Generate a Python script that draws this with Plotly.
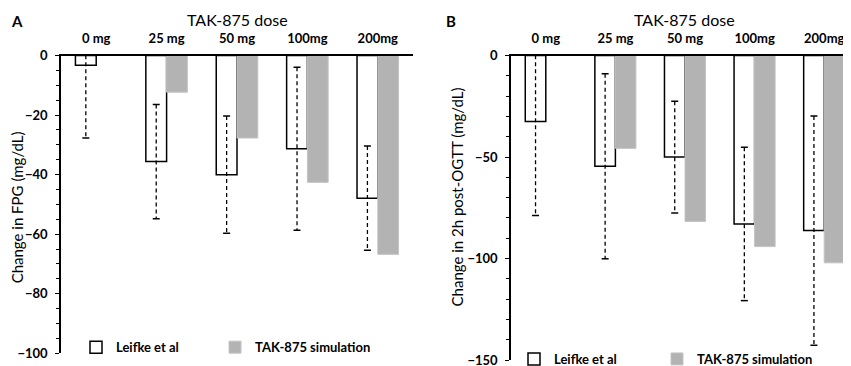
import plotly.graph_objects as go

doses = ["0 mg", "25 mg", "50 mg", "100mg", "200mg"]

# Panel A: change in FPG (mg/dL)
fpg_leifke = [-3.2, -35.6, -40.0, -31.3, -47.9]
fpg_leifke_err = [24.5, 19.2, 19.7, 27.4, 17.5]
fpg_sim = [None, -12.3, -27.7, -42.6, -66.8]

# Panel B: change in 2h post-OGTT (mg/dL)
ogtt_leifke = [-32.4, -54.5, -50.0, -82.9, -86.2]
ogtt_leifke_err = [46.4, 45.6, 27.5, 37.8, 56.5]
ogtt_sim = [None, -45.7, -81.7, -94.1, -102.1]

W, H = 851, 366
FONT = "Lato, 'Open Sans', sans-serif"
BARGAP = 0.41
GRAY = "#b3b3b3"

fig = go.Figure()
xs = list(range(len(doses)))
bw = (1 - BARGAP) / 2


def add_panel(xa, ya, leifke, err, sim, leg_a, leg_b):
    fig.add_trace(go.Bar(
        x=xs, y=leifke, name="Leifke et al", xaxis=xa, yaxis=ya,
        marker=dict(color="white", line=dict(color="black", width=1.5)),
        offsetgroup="a", legend=leg_a, showlegend=True))
    fig.add_trace(go.Bar(
        x=xs, y=sim, name="TAK-875 simulation", xaxis=xa, yaxis=ya,
        marker=dict(color=GRAY, line=dict(color="#c4c4c4", width=1)),
        offsetgroup="b", legend=leg_b, showlegend=True))
    # dashed error bars through the centre of the Leifke bars
    lx, ly, cx, cy = [], [], [], []
    for i, (v, e) in enumerate(zip(leifke, err)):
        xc = i - bw / 2
        lx += [xc, xc, None]
        ly += [v + e, v - e, None]
        cx += [xc, xc]
        cy += [v + e, v - e]
    fig.add_trace(go.Scatter(
        x=lx, y=ly, mode="lines", xaxis=xa, yaxis=ya, showlegend=False,
        line=dict(color="black", width=1.3, dash="4px,3px"), hoverinfo="skip"))
    fig.add_trace(go.Scatter(
        x=cx, y=cy, mode="markers", xaxis=xa, yaxis=ya, showlegend=False,
        marker=dict(symbol="line-ew", size=5, line=dict(color="black", width=1.5)),
        hoverinfo="skip"))


add_panel("x", "y", fpg_leifke, fpg_leifke_err, fpg_sim, "legend", "legend3")
add_panel("x2", "y2", ogtt_leifke, ogtt_leifke_err, ogtt_sim, "legend2", "legend4")

tick_font = dict(family=FONT, size=13, color="black", weight="bold")
xcommon = dict(range=[-0.5, 4.5], side="top", tickvals=xs, ticktext=doses,
               showline=True, linecolor="black", linewidth=1.5, ticks="",
               tickfont=tick_font, showgrid=False, zeroline=False,
               ticklabelstandoff=6, automargin=False, fixedrange=True)
ycommon = dict(showline=True, linecolor="black", linewidth=1.5, ticks="outside",
               ticklen=4, tickwidth=1.2, tickcolor="black", tickfont=tick_font,
               ticklabelstandoff=5,
               showgrid=False, zeroline=False, automargin=False, fixedrange=True)

top = 1 - 48 / H
leg_font = dict(family=FONT, size=13, weight="bold", color="black")


def leg(xpx, ypx):
    return dict(orientation="h", x=xpx / W, xanchor="left", y=1 - ypx / H,
                yanchor="middle", bgcolor="rgba(0,0,0,0)", font=leg_font,
                itemwidth=30)


fig.update_layout(
    width=W, height=H, margin=dict(l=0, r=0, t=0, b=0),
    paper_bgcolor="white", plot_bgcolor="white",
    barmode="group", bargap=BARGAP, bargroupgap=0,
    font=dict(family=FONT, color="black"),
    xaxis=dict(domain=[53 / W, 405 / W], anchor="y", **xcommon),
    xaxis2=dict(domain=[503 / W, 1.0], anchor="y2", **xcommon),
    yaxis=dict(domain=[1 - 348 / H, top], range=[-100, 0], dtick=20, anchor="x",
               minor=dict(dtick=5, ticks="outside", ticklen=3, tickcolor="black"),
               **ycommon),
    yaxis2=dict(domain=[1 - 355 / H, top], range=[-150, 0], dtick=50, anchor="x2",
                minor=dict(dtick=10, ticks="outside", ticklen=3, tickcolor="black"),
                **ycommon),
    legend=leg(68, 342),
    legend3=leg(207, 342),
    legend2=leg(506, 354),
    legend4=leg(649, 354),
)

ann = dict(showarrow=False, xref="paper", yref="paper")
fig.add_annotation(text="TAK-875 dose", x=229 / W, y=1, xanchor="center",
                   yanchor="top", font=dict(size=16, family=FONT), **ann)
fig.add_annotation(text="TAK-875 dose", x=676 / W, y=1, xanchor="center",
                   yanchor="top", font=dict(size=16, family=FONT), **ann)
fig.add_annotation(text="A", x=9 / W, y=1 - 13 / H, xanchor="center", yanchor="middle",
                   font=dict(size=15, family=FONT, weight="bold"), **ann)
fig.add_annotation(text="B", x=443 / W, y=1 - 13 / H, xanchor="center", yanchor="middle",
                   font=dict(size=15, family=FONT, weight="bold"), **ann)
fig.add_annotation(text="Change in FPG (mg/dL)", x=0, y=1 - 201 / H, textangle=-90,
                   xanchor="left", yanchor="middle", xshift=-2,
                   font=dict(size=15, family=FONT), **ann)
fig.add_annotation(text="Change in 2h post-OGTT (mg/dL)", x=438 / W, y=1 - 191 / H,
                   textangle=-90, xanchor="left", yanchor="middle",
                   font=dict(size=15, family=FONT), **ann)

fig.write_html("out.html")
